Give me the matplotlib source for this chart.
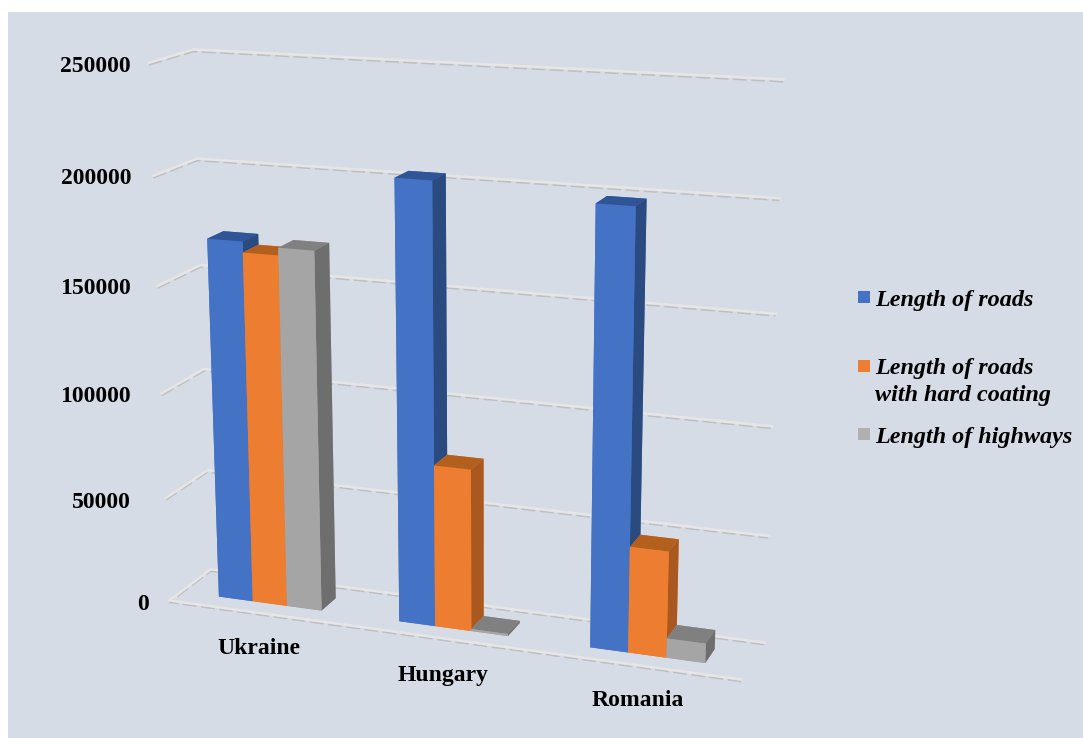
import numpy as np
import matplotlib
matplotlib.use('Agg')
from matplotlib import pyplot as plt
from matplotlib.patches import Rectangle

## values
countries = ['Ukraine', 'Hungary', 'Romania']
roads = [170500, 204000, 199000]
hard_coating = [165500, 76000, 49000]
highways = [169000, 1000, 9000]
series_names = ['Length of roads', 'Length of roads\nwith hard coating', 'Length of highways']
levels = [0, 50000, 100000, 150000, 200000, 250000]

## bottom, top, front, back, left, right
blue = ['#4472C4', '#2F5597', '#4472C4', '#4472C4', '#4472C4', '#2A4A80']
orange = ['#ED7D31', '#B3601F', '#ED7D31', '#ED7D31', '#ED7D31', '#A9591F']
grey = ['#A5A5A5', '#808080', '#A5A5A5', '#A5A5A5', '#A5A5A5', '#6E6E6E']
swatches = ['#4472C4', '#ED7D31', '#B0B0B0']

W, H = 1083, 738
plt.rcParams['font.family'] = 'Liberation Serif'
fig = plt.figure(figsize=(W/100, H/100), dpi=100, facecolor='white')
fig.patches.append(Rectangle((8/W, 0), 1-8/W, 1-12/H, transform=fig.transFigure,
                             facecolor='#D6DCE5', edgecolor='none', zorder=-1))

## camera fitted against the gridline corners of the picture
ax = fig.add_axes([0.0739, 0.0057, 738/W, 1], projection='3d')
ax.patch.set_alpha(0)
ax.set_xlim(0, 3)
ax.set_ylim(0, 1)
ax.set_zlim(0, 250000)
ax.view_init(15.4598, -69.7175, 0.1951)
ax.set_proj_type('persp', focal_length=0.5899)
ax.set_box_aspect((4.2380, 0.6782, 3.9115), zoom=1.1135)
ax.set_axis_off()
ax.computed_zorder = False

## gridlines are double: a pale line with a grey one just under it
for lev in levels:
    xs = [0, 0, 3]
    ys = [0, 1, 1]
    if lev == 0:
        xs = [3, 0, 0, 3]
        ys = [0, 0, 1, 1]
    zs = [lev]*len(xs)
    ax.plot(xs, ys, [z-1000 for z in zs], color='#BFBFBF', lw=1.1, ls=(0, (9, 3)), zorder=1)
    ax.plot(xs, ys, zs, color='#E6E6E6', lw=1.7, zorder=2)

## bars, drawn left to right so that nearer ones cover the farther ones
bar_w = 0.192
start = 0.215
z = 3
for i in range(len(countries)):
    for j, (vals, col) in enumerate(zip([roads, hard_coating, highways], [blue, orange, grey])):
        ax.bar3d(i+start+j*bar_w, 0.28, 0, bar_w, 0.38, vals[i], color=col,
                 shade=False, zorder=z)
        z = z+1

def ptext(x, y, s, **kw):
    fig.text(x/W, 1-y/H, s, va='center', **kw)

tick_y = [604, 502, 396, 288, 179, 66]
for lev, y in zip(levels, tick_y):
    ptext(131 if lev else 149, y, str(lev), ha='right', fontsize=17, fontweight='bold', color='black')

label_pos = [(259, 649), (443, 675), (638, 700)]
for name, (x, y) in zip(countries, label_pos):
    ptext(x, y, name, ha='center', fontsize=17, fontweight='bold', color='black')

## legend
leg_y = [297, 366, 434]
text_y = [301, 382, 438]
for name, col, y0, y1 in zip(series_names, swatches, leg_y, text_y):
    fig.patches.append(Rectangle((858/W, 1-(y0+6)/H), 12/W, 12/H, transform=fig.transFigure,
                                 facecolor=col, edgecolor='none'))
    ptext(875, y1, name, ha='left', fontsize=17.4, fontweight='bold', fontstyle='italic',
          color='black', linespacing=1.4)

fig.savefig('out.png', dpi=100)
